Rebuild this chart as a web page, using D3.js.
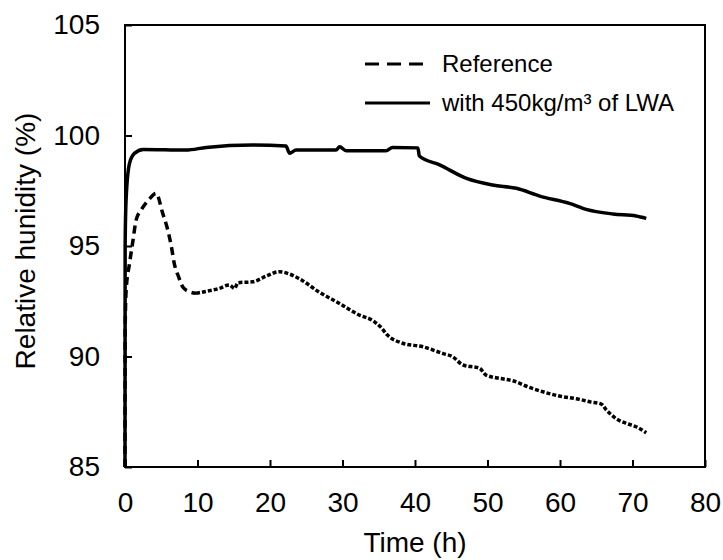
<!DOCTYPE html>
<html>
<head>
<meta charset="utf-8">
<script src="https://cdn.jsdelivr.net/npm/d3@7"></script>
<style>
  body { margin: 0; background: #fff; }
  text { font-family: Arial, "Liberation Sans", sans-serif; fill: #000; }
</style>
</head>
<body>
<div id="chart"></div>
<script>
// time (h) and relative humidity (%)
const refTime = [0, 0.02, 0.16, 0.62, 1.08, 1.54, 2.23, 3.3, 4.3, 5.2, 5.9, 6.4, 6.8, 7.4, 8.0, 8.9, 9.8,
    11.7, 13.0, 14.4, 15.1, 15.6, 17.6, 19.5, 21.3, 22.7, 24.4, 26.7, 29.6, 32.3, 34.2, 35.3, 36.2,
    38.3, 41.1, 43.8, 45.2, 46.6, 48.9, 49.8, 51.7, 53.5, 55.8, 58.1, 59.9, 62.7, 64.1, 65.7, 66.4,
    67.7, 69.1, 70.5, 71.9];
const refRH = [85, 91.2, 93.0, 94.2, 95.2, 96.18, 96.63, 97.1, 97.38, 96.48, 95.72, 94.97, 94.2, 93.6, 93.13, 92.93, 92.86,
    92.98, 93.08, 93.24, 93.08, 93.34, 93.38, 93.64, 93.84, 93.73, 93.45, 92.93, 92.4, 91.88, 91.62, 91.32, 90.97,
    90.6, 90.44, 90.14, 89.99, 89.62, 89.47, 89.16, 89.01, 88.9, 88.6, 88.36, 88.21, 88.06, 87.95, 87.85, 87.58,
    87.2, 86.98, 86.82, 86.55];

const lwaTime = [0, 0.02, 0.15, 0.62, 1.3, 2.5, 8.4, 11.2, 17.6, 22.2, 22.7, 23.6, 29.1, 29.6, 30.5, 36.0, 36.9,
    40.4, 40.6, 43.4, 47.1, 50.7, 54.0, 57.2, 61.3, 63.6, 67.3, 70.5, 71.9];
const lwaRH = [85, 95.0, 97.1, 98.74, 99.19, 99.37, 99.34, 99.46, 99.57, 99.52, 99.2, 99.34, 99.34, 99.49, 99.31, 99.31, 99.46,
    99.44, 99.07, 98.67, 98.06, 97.76, 97.61, 97.26, 96.93, 96.66, 96.45, 96.36, 96.25];

const xTicks = [0, 10, 20, 30, 40, 50, 60, 70, 80];
const yTicks = [85, 90, 95, 100, 105];
const seriesNames = ["Reference", "with 450kg/m\u00b3 of LWA"];

const refData = refTime.map((t, i) => ({ t: t, v: refRH[i] }));
const lwaData = lwaTime.map((t, i) => ({ t: t, v: lwaRH[i] }));

const margin = { top: 25, right: 18, bottom: 93, left: 125 };
const width = 723 - margin.left - margin.right,
    height = 560 - margin.top - margin.bottom;

const svg = d3.select("#chart").append("svg")
    .attr("width", 723)
    .attr("height", 560)
    .append("g")
    .attr("transform", "translate(" + margin.left + "," + margin.top + ")");

const x = d3.scaleLinear().domain([0, 80]).range([0, width]);
const y = d3.scaleLinear().domain([85, 105]).range([height, 0]);

// inward ticks
const xAxis = d3.axisBottom(x).tickValues(xTicks).tickSize(-7).tickPadding(25);
const yAxis = d3.axisLeft(y).tickValues(yTicks).tickSize(-7).tickPadding(25);

svg.append("g")
    .attr("class", "x-axis")
    .attr("transform", "translate(0," + height + ")")
    .call(xAxis);
svg.append("g")
    .attr("class", "y-axis")
    .call(yAxis);

svg.selectAll(".domain").remove();
svg.selectAll(".tick line").attr("stroke", "#000").attr("stroke-width", 2);
svg.selectAll(".tick text").style("font-size", "28px").style("font-family", "Arial, 'Liberation Sans', sans-serif");

// frame
svg.append("rect")
    .attr("x", 0).attr("y", 0)
    .attr("width", width).attr("height", height)
    .attr("fill", "none")
    .attr("stroke", "#000")
    .attr("stroke-width", 2);

const line = d3.line()
    .x(d => x(d.t))
    .y(d => y(d.v))
    .curve(d3.curveMonotoneX);

svg.append("path")
    .datum(lwaData)
    .attr("d", line)
    .attr("fill", "none")
    .attr("stroke", "#000")
    .attr("stroke-width", 3.5);

// reference: longer dashes early on, dense short dashes later
svg.append("path")
    .datum(refData.filter(d => d.t <= 9.8))
    .attr("d", line)
    .attr("fill", "none")
    .attr("stroke", "#000")
    .attr("stroke-width", 3.5)
    .attr("stroke-dasharray", "8,5");
svg.append("path")
    .datum(refData.filter(d => d.t >= 9.8))
    .attr("d", line)
    .attr("fill", "none")
    .attr("stroke", "#000")
    .attr("stroke-width", 3.5)
    .attr("stroke-dasharray", "4,2");

// legend
const legend = svg.append("g").attr("transform", "translate(240,39)");
legend.append("line")
    .attr("x1", 0).attr("x2", 58).attr("y1", 0).attr("y2", 0)
    .attr("stroke", "#000").attr("stroke-width", 3)
    .attr("stroke-dasharray", "14,8");
legend.append("line")
    .attr("x1", 0).attr("x2", 65).attr("y1", 39).attr("y2", 39)
    .attr("stroke", "#000").attr("stroke-width", 3);
legend.selectAll(".legend-text")
    .data(seriesNames)
    .enter().append("text")
    .attr("class", "legend-text")
    .attr("x", 77)
    .attr("y", (d, i) => i * 39)
    .attr("dy", "0.35em")
    .style("font-size", "24px")
    .text(d => d);

// axis titles
svg.append("text")
    .attr("x", width / 2)
    .attr("y", height + 85)
    .style("text-anchor", "middle")
    .style("font-size", "28px")
    .text("Time (h)");
svg.append("text")
    .attr("transform", "rotate(-90)")
    .attr("x", -height / 2 + 5)
    .attr("y", -90)
    .style("text-anchor", "middle")
    .style("font-size", "28px")
    .text("Relative hunidity (%)");
</script>
</body>
</html>
